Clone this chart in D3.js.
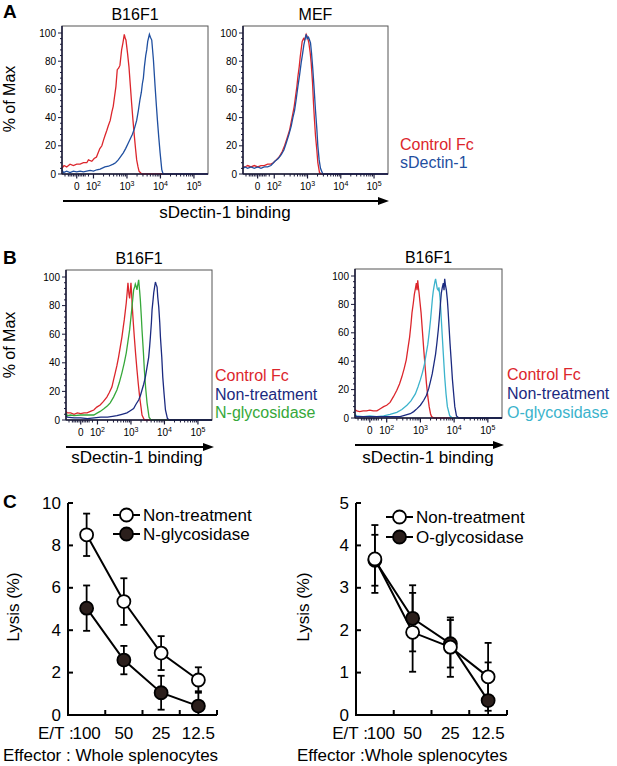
<!DOCTYPE html>
<html>
<head>
<meta charset="utf-8">
<script src="https://cdn.jsdelivr.net/npm/d3@7"></script>
<style>
  body { margin: 0; background: #fff; }
  svg { font-family: "Liberation Sans", Arial, sans-serif; }
</style>
</head>
<body>
<div id="chart"></div>
<script>
// ---- histogram data: [display decade, % of max] ----
const aB16Control = [[1.06,4],[1.12,6],[1.2,5],[1.3,7],[1.4,6],[1.5,7],[1.6,7],[1.7,8],[1.8,8],[1.85,10],[1.95,9],[2.02,11],[2.09,12],[2.14,15],[2.19,18],[2.25,20],[2.3,24],[2.34,27],[2.4,31],[2.44,34],[2.5,38],[2.55,44],[2.59,48],[2.63,55],[2.67,62],[2.71,74],[2.75,75],[2.79,77],[2.84,88],[2.88,93],[2.92,99],[2.95,96],[2.97,95],[3.02,85],[3.06,76],[3.1,63],[3.14,50],[3.18,38],[3.22,27],[3.26,17],[3.29,10],[3.33,5],[3.36,2],[3.44,0],[5.42,0]];
const aB16Dectin = [[1.06,3],[1.1,1],[1.2,2],[1.3,1],[1.4,2],[1.5,1.5],[1.6,2],[1.7,1.5],[1.8,2],[1.9,2.5],[2.0,2],[2.1,3],[2.2,3.5],[2.34,5],[2.45,5.5],[2.59,7],[2.66,8],[2.74,10],[2.8,12],[2.89,15],[2.96,18],[3.04,22],[3.1,25],[3.16,28],[3.22,32],[3.29,38],[3.34,45],[3.39,53],[3.43,58],[3.46,64],[3.49,68],[3.52,76],[3.56,84],[3.59,88],[3.62,94],[3.65,97],[3.67,99],[3.7,97],[3.74,95],[3.79,81],[3.84,62],[3.88,48],[3.91,38],[3.95,26],[3.99,15],[4.04,3],[4.08,0],[5.42,0]];
const aMefControl = [[1.06,5],[1.12,5],[1.2,6],[1.3,5],[1.4,6],[1.5,5],[1.6,6],[1.7,6],[1.8,7],[1.9,7],[1.97,8],[2.06,10],[2.16,12.5],[2.24,16],[2.31,20],[2.38,25],[2.46,31],[2.51,37],[2.56,43],[2.6,48],[2.64,55],[2.68,62],[2.71,69],[2.75,76],[2.78,83],[2.84,94],[2.88,96],[2.91,95],[2.96,99],[3.0,97],[3.04,93],[3.08,86],[3.11,79],[3.15,65],[3.18,50],[3.21,38],[3.24,27],[3.28,17],[3.31,8],[3.36,1],[3.41,0],[5.42,0]];
const aMefDectin = [[1.06,4],[1.12,5],[1.2,4],[1.3,5],[1.4,4],[1.5,5],[1.6,4],[1.7,5],[1.8,5],[1.9,6],[2.02,9],[2.12,11],[2.21,13.7],[2.29,17],[2.36,22],[2.44,28],[2.51,34],[2.56,40],[2.61,45],[2.66,53],[2.71,62],[2.76,70],[2.81,79],[2.85,85],[2.89,91.5],[2.93,96],[2.96,99],[2.99,96],[3.03,97],[3.06,95],[3.09,93],[3.12,86],[3.16,74],[3.2,60],[3.24,45],[3.28,32],[3.31,20],[3.35,10],[3.39,4],[3.46,0],[5.42,0]];

const bNControl = [[1.06,6],[1.1,5],[1.2,5],[1.3,4],[1.4,5],[1.5,4.5],[1.6,5],[1.69,5],[1.79,6],[1.89,7],[1.98,9],[2.08,10.5],[2.18,13],[2.28,16],[2.35,19],[2.43,23],[2.48,28],[2.53,33],[2.58,38],[2.63,44],[2.68,51],[2.73,58],[2.77,65],[2.8,70],[2.83,76],[2.86,82],[2.89,90],[2.91,96],[2.94,88],[2.96,85],[2.98,90],[3.0,96],[3.02,88],[3.04,79],[3.07,68],[3.1,58],[3.14,46],[3.18,35],[3.22,25],[3.26,16],[3.3,9],[3.33,3.5],[3.4,0],[5.42,0]];
const bNGlyco = [[1.06,5],[1.1,3],[1.2,3.5],[1.3,3],[1.5,3.5],[1.7,3.5],[1.89,3.5],[2.0,5],[2.08,6],[2.2,8],[2.3,10],[2.38,12],[2.48,16],[2.58,21],[2.65,26],[2.73,33],[2.8,40],[2.86,47],[2.91,55],[2.96,63],[3.0,72],[3.03,79],[3.06,86],[3.08,91],[3.11,93],[3.13,95],[3.16,93],[3.18,91],[3.2,94],[3.23,98],[3.26,90],[3.28,84],[3.31,72],[3.33,63],[3.37,48],[3.4,35],[3.44,22],[3.48,12],[3.54,2],[3.6,0],[5.42,0]];
const bNNon = [[1.06,3],[1.1,2],[1.3,1.5],[1.5,1.5],[1.7,1],[1.9,1.5],[2.1,2],[2.3,2],[2.45,2.5],[2.58,3],[2.73,4],[2.88,5],[2.98,6.5],[3.08,8],[3.15,11],[3.23,14],[3.28,17],[3.33,21],[3.38,25],[3.43,30],[3.48,37],[3.53,44],[3.56,52],[3.58,58],[3.61,68],[3.63,77],[3.66,84],[3.68,89],[3.7,92],[3.73,96.5],[3.75,95],[3.78,93],[3.8,86],[3.83,79],[3.86,68],[3.88,58],[3.92,44],[3.95,30],[3.99,18],[4.03,7],[4.09,1],[4.15,0],[5.42,0]];

const bOControl = [[1.06,6],[1.11,5],[1.2,4.5],[1.3,5],[1.4,5],[1.5,5.5],[1.6,5],[1.71,5],[1.81,6.5],[1.91,8],[2.0,9],[2.1,11],[2.2,15],[2.3,19.5],[2.38,24],[2.45,29],[2.52,35],[2.58,41],[2.63,49],[2.68,57],[2.72,66],[2.75,74],[2.79,81],[2.82,87],[2.85,91],[2.88,95],[2.9,90],[2.92,97],[2.94,92],[2.96,88],[2.99,81],[3.02,74],[3.06,61],[3.1,48],[3.14,36],[3.18,24],[3.22,15],[3.26,8],[3.3,3],[3.33,1],[3.4,0],[5.42,0]];
const bOGlyco = [[1.06,3],[1.1,1.5],[1.3,1],[1.5,1.5],[1.7,1],[1.91,1.5],[2.1,2.5],[2.3,4],[2.45,6],[2.6,9],[2.72,12],[2.85,17],[2.93,22],[3.0,27],[3.06,32],[3.12,38],[3.17,45],[3.22,52],[3.26,60],[3.3,69],[3.33,77],[3.36,85],[3.38,89],[3.4,92],[3.43,96],[3.45,98],[3.48,94],[3.5,91],[3.53,90],[3.55,92],[3.58,85],[3.6,78],[3.65,57],[3.68,45],[3.72,29],[3.76,17],[3.8,8],[3.87,1.5],[3.95,0],[5.42,0]];
const bONon = [[1.06,2],[1.1,1],[1.3,1],[1.5,1],[1.8,1],[2.1,1],[2.4,1],[2.55,2],[2.7,3],[2.8,4.5],[2.9,6.6],[3.0,9],[3.1,12.5],[3.18,16],[3.25,21],[3.3,26],[3.35,31],[3.4,38],[3.45,45],[3.49,53],[3.53,62],[3.56,70],[3.58,76],[3.6,82],[3.62,88],[3.65,92],[3.68,95],[3.7,90],[3.72,98],[3.74,94],[3.77,90],[3.8,83],[3.82,76],[3.85,64],[3.88,52],[3.92,38],[3.95,27],[3.99,16],[4.02,8],[4.07,1.5],[4.14,0],[5.42,0]];

// x tick labels of the flow plots ("0", 10^2 ... 10^5)
const histTickVals = [1.5, 2, 3, 4, 5];
const histTickExp = ["", "2", "3", "4", "5"];
const histYTicks = [0, 20, 40, 60, 80, 100];

// ---- lysis data ----
const etCats = ["100", "50", "25", "12.5"];
const nNonMean = [8.5, 5.35, 2.92, 1.65];
const nNonErr  = [1.0, 1.1, 0.8, 0.6];
const nGlyMean = [5.04, 2.59, 1.05, 0.42];
const nGlyErr  = [1.07, 0.67, 0.8, 0.7];
const oNonMean = [3.68, 1.95, 1.6, 0.9];
const oNonErr  = [0.8, 0.93, 0.7, 0.8];
const oGlyMean = [3.65, 2.28, 1.68, 0.34];
const oGlyErr  = [0.6, 0.78, 0.56, 0.9];

const RED = "#dc262c", BLUE = "#1f4fa0", NAVY = "#1b2a80", GREEN = "#36a83a", CYAN = "#3bb3cc";

const W = 617, H = 766;
const svg = d3.select("#chart").append("svg")
    .attr("width", W)
    .attr("height", H);

// panel letters
[["A", 18], ["B", 264], ["C", 508]].forEach(([t, y]) => {
    svg.append("text").attr("x", 3).attr("y", y)
        .attr("font-size", 19).attr("font-weight", "bold").text(t);
});

// Draw one flow histogram
function histPanel(p) {
    const x = d3.scaleLinear().domain([1.06, 5.42]).range([p.left, p.right]);
    const y = d3.scaleLinear().domain([0, 100]).range([p.y0, p.y100]);
    const g = svg.append("g");
    const top = p.y100 - 7;

    g.append("rect").attr("x", p.left).attr("y", top)
        .attr("width", p.right - p.left).attr("height", p.y0 - top)
        .attr("fill", "none").attr("stroke", "#555").attr("stroke-width", 1);

    const line = d3.line().x(d => x(d[0])).y(d => y(d[1]));
    p.series.forEach(s => {
        g.append("path").datum(s.data)
            .attr("d", line)
            .attr("fill", "none")
            .attr("stroke", s.color)
            .attr("stroke-width", 1.3);
    });

    // left axis
    g.append("line").attr("x1", p.left).attr("x2", p.left).attr("y1", top).attr("y2", p.y0)
        .attr("stroke", "#1a1a3a").attr("stroke-width", 1.5);
    d3.range(0, 101, 4).forEach(v => {
        const major = v % 20 === 0;
        g.append("line").attr("x1", p.left - (major ? 4 : 2)).attr("x2", p.left)
            .attr("y1", y(v)).attr("y2", y(v)).attr("stroke", "#1a1a3a").attr("stroke-width", 1);
    });
    histYTicks.forEach(v => {
        g.append("text").attr("x", p.left - 6).attr("y", y(v)).attr("dy", "0.35em")
            .attr("text-anchor", "end").attr("font-size", 10).text(v);
    });

    // bottom axis
    g.append("line").attr("x1", p.left).attr("x2", p.right).attr("y1", p.y0).attr("y2", p.y0)
        .attr("stroke", "#1a1a3a").attr("stroke-width", 1.5);
    const minor = [1.15, 1.25, 1.3, 1.35, 1.4, 1.45, 1.55, 1.6, 1.65, 1.7, 1.75, 1.85];
    [2, 3, 4].forEach(d => d3.range(2, 10).forEach(k => minor.push(d + Math.log10(k))));
    minor.forEach(v => {
        g.append("line").attr("x1", x(v)).attr("x2", x(v)).attr("y1", p.y0).attr("y2", p.y0 + 2.5)
            .attr("stroke", "#1a1a3a").attr("stroke-width", 1);
    });
    histTickVals.forEach((v, i) => {
        g.append("line").attr("x1", x(v)).attr("x2", x(v)).attr("y1", p.y0).attr("y2", p.y0 + 4.5)
            .attr("stroke", "#1a1a3a").attr("stroke-width", 1.2);
        const t = g.append("text").attr("x", x(v)).attr("y", p.y0 + 16)
            .attr("text-anchor", "middle").attr("font-size", 10);
        if (histTickExp[i] === "") {
            t.text("0");
        } else {
            t.append("tspan").text("10");
            t.append("tspan").attr("dy", -4).attr("font-size", 7).text(histTickExp[i]);
        }
    });

    if (p.title) {
        g.append("text").attr("x", (p.left + p.right) / 2).attr("y", top - 6)
            .attr("text-anchor", "middle").attr("font-size", 16).text(p.title);
    }
    return { x, y };
}

function arrow(x1, x2, yy, label, labelX, labelY) {
    svg.append("line").attr("x1", x1).attr("x2", x2 - 8).attr("y1", yy).attr("y2", yy)
        .attr("stroke", "#000").attr("stroke-width", 2);
    svg.append("path")
        .attr("d", `M${x2},${yy} L${x2 - 11},${yy - 4} L${x2 - 11},${yy + 4} Z`)
        .attr("fill", "#000");
    svg.append("text").attr("x", labelX).attr("y", labelY)
        .attr("text-anchor", "middle").attr("font-size", 17).text(label);
}

function legendText(x, ys, items) {
    items.forEach((it, i) => {
        svg.append("text").attr("x", x).attr("y", ys[i])
            .attr("font-size", 16).attr("fill", it[1]).text(it[0]);
    });
}

function yLabel(text, x, y, size) {
    svg.append("text").attr("transform", `translate(${x},${y}) rotate(-90)`)
        .attr("text-anchor", "middle").attr("font-size", size).text(text);
}

// ---- Panel A ----
histPanel({ left: 62, right: 208, y0: 174, y100: 33, title: "B16F1",
    series: [{ data: aB16Control, color: RED }, { data: aB16Dectin, color: BLUE }] });
histPanel({ left: 243, right: 388, y0: 174, y100: 33, title: "MEF",
    series: [{ data: aMefControl, color: RED }, { data: aMefDectin, color: BLUE }] });
yLabel("% of Max", 15, 99, 16);
arrow(63, 389, 201, "sDectin-1 binding", 225, 218);
legendText(400, [150, 168], [["Control Fc", RED], ["sDectin-1", BLUE]]);

// ---- Panel B ----
histPanel({ left: 66, right: 212, y0: 420, y100: 277, title: "B16F1",
    series: [{ data: bNControl, color: RED }, { data: bNGlyco, color: GREEN }, { data: bNNon, color: NAVY }] });
histPanel({ left: 355, right: 502, y0: 418, y100: 276, title: "B16F1",
    series: [{ data: bOControl, color: RED }, { data: bOGlyco, color: CYAN }, { data: bONon, color: NAVY }] });
yLabel("% of Max", 15, 345, 16);
arrow(66, 214, 447, "sDectin-1 binding", 137, 463);
arrow(355, 504, 445, "sDectin-1 binding", 428, 463);
legendText(215, [381, 400, 418], [["Control Fc", RED], ["Non-treatment", NAVY], ["N-glycosidase", GREEN]]);
legendText(507, [380, 399, 418], [["Control Fc", RED], ["Non-treatment", NAVY], ["O-glycosidase", CYAN]]);

// ---- Panel C ----
function lysisPanel(p) {
    const x = d3.scaleBand().domain(etCats).range([p.left, p.right]);
    const y = d3.scaleLinear().domain([0, p.ymax]).range([715, 503]);
    const g = svg.append("g");
    const cx = c => x(c) + x.bandwidth() / 2;

    // axes
    g.append("path").attr("d", `M${p.left},503 V715 H${p.right}`)
        .attr("fill", "none").attr("stroke", "#000").attr("stroke-width", 2);
    d3.range(0, p.ymax + 0.001, p.step).forEach(v => {
        g.append("line").attr("x1", p.left).attr("x2", p.left + 5).attr("y1", y(v)).attr("y2", y(v))
            .attr("stroke", "#000").attr("stroke-width", 2);
        g.append("text").attr("x", p.left - 7).attr("y", y(v)).attr("dy", "0.33em")
            .attr("text-anchor", "end").attr("font-size", 17).text(v);
    });
    etCats.forEach(c => {
        const bx = x(c) + x.bandwidth();
        g.append("line").attr("x1", bx).attr("x2", bx).attr("y1", 715).attr("y2", 710)
            .attr("stroke", "#000").attr("stroke-width", 2);
        g.append("text").attr("x", cx(c) + (c === etCats[0] ? p.firstShift : 0)).attr("y", 739)
            .attr("text-anchor", "middle").attr("font-size", 17).text(c);
    });
    g.append("text").attr("x", cx(etCats[0]) + p.firstShift - 13).attr("y", 739)
        .attr("text-anchor", "end").attr("font-size", 17).text("E/T :");
    g.append("text").attr("x", p.effX).attr("y", 761).attr("font-size", 17).text(p.effText);

    const line = d3.line().x((d, i) => cx(etCats[i])).y(d => y(d));
    p.series.forEach(s => {
        g.append("path").datum(s.mean).attr("d", line)
            .attr("fill", "none").attr("stroke", "#000").attr("stroke-width", 2);
    });
    p.series.forEach(s => {
        s.mean.forEach((m, i) => {
            const xx = cx(etCats[i]);
            const hi = y(m + s.err[i]), lo = y(Math.max(0, m - s.err[i]));
            g.append("line").attr("x1", xx).attr("x2", xx).attr("y1", hi).attr("y2", lo)
                .attr("stroke", "#000").attr("stroke-width", 1.8);
            [hi, lo].forEach(yy => g.append("line").attr("x1", xx - 3.5).attr("x2", xx + 3.5)
                .attr("y1", yy).attr("y2", yy).attr("stroke", "#000").attr("stroke-width", 1.8));
        });
    });
    p.series.forEach(s => {
        g.selectAll(null).data(s.mean).enter().append("circle")
            .attr("cx", (d, i) => cx(etCats[i])).attr("cy", d => y(d)).attr("r", 6.5)
            .attr("fill", s.fill).attr("stroke", "#000").attr("stroke-width", 1.8);
    });

    // legend
    p.series.slice().reverse().forEach((s, i) => {
        const ly = p.legY[i];
        g.append("line").attr("x1", p.legX).attr("x2", p.legX + 27).attr("y1", ly).attr("y2", ly)
            .attr("stroke", "#000").attr("stroke-width", 2);
        g.append("circle").attr("cx", p.legX + 13.5).attr("cy", ly).attr("r", 6.5)
            .attr("fill", s.fill).attr("stroke", "#000").attr("stroke-width", 1.8);
        g.append("text").attr("x", p.legX + 30).attr("y", ly + 6).attr("font-size", 17).text(s.name);
    });
}

lysisPanel({ left: 68, right: 217, ymax: 10, step: 2, legX: 113, legY: [515, 534],
    effX: 3, effText: "Effector : Whole splenocytes", firstShift: 0,
    series: [
        { name: "N-glycosidase", mean: nGlyMean, err: nGlyErr, fill: "#2b1f1c" },
        { name: "Non-treatment", mean: nNonMean, err: nNonErr, fill: "#fff" }
    ] });
lysisPanel({ left: 356, right: 507, ymax: 5, step: 1, legX: 386, legY: [517, 537],
    effX: 297, effText: "Effector :Whole splenocytes", firstShift: 6,
    series: [
        { name: "O-glycosidase", mean: oGlyMean, err: oGlyErr, fill: "#2b1f1c" },
        { name: "Non-treatment", mean: oNonMean, err: oNonErr, fill: "#fff" }
    ] });
yLabel("Lysis (%)", 19, 607, 17);
yLabel("Lysis (%)", 309, 607, 17);
</script>
</body>
</html>
